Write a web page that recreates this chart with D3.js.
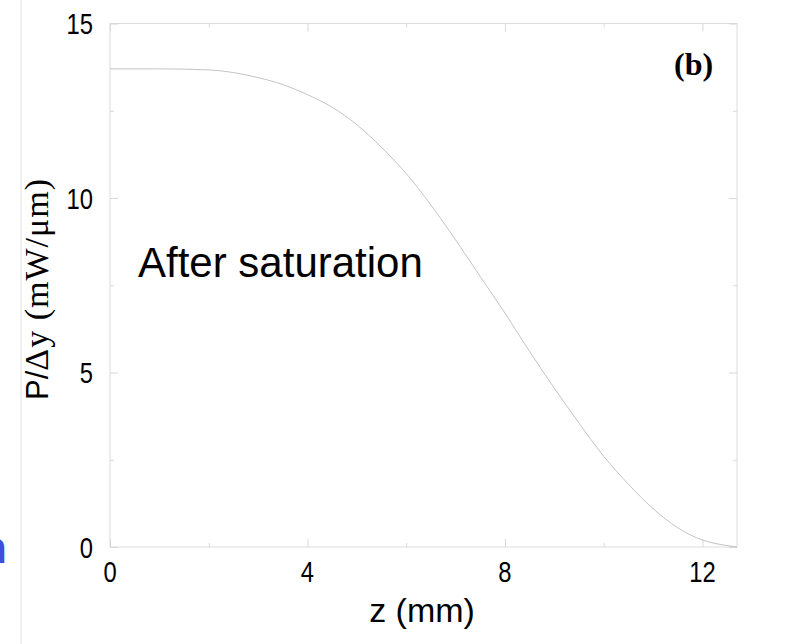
<!DOCTYPE html>
<html>
<head>
<meta charset="utf-8">
<script src="https://cdn.jsdelivr.net/npm/d3@7"></script>
<style>
  body { margin: 0; background: #fff; }
  svg { display: block; }
  .frame { fill: none; stroke: #dcdcdc; stroke-width: 1; }
  .tick line { stroke: #d8d8d8; }
  .domain { display: none; }
  .curve { fill: none; stroke: #c4c4c4; stroke-width: 1; }
  .num { font-family: "Liberation Sans", Arial, sans-serif; font-size: 29px; fill: #000; }
</style>
</head>
<body>
<div class="chart"></div>
<script>
const WIDTH = 802;
const HEIGHT = 644;
const LEFT = 110, RIGHT = 737, TOP = 23.5, BOTTOM = 547;

// power per unit width along z, after saturation
var zValues = [0, 1, 2, 3, 3.5, 4, 4.5, 5, 5.5, 6, 6.5, 7, 7.5, 8, 8.5, 9, 9.5, 10, 10.5, 11, 11.5, 12, 12.5, 12.7];
var powerValues = [13.70, 13.70, 13.67, 13.45, 13.25, 12.96, 12.6, 12.1, 11.45, 10.7, 9.8, 8.8, 7.75, 6.7, 5.6, 4.55, 3.55, 2.6, 1.8, 1.1, 0.55, 0.2, 0.04, 0];

var xMajor = [0, 4, 8, 12];
var xMinor = [2, 6, 10];
var yMajor = [0, 5, 10, 15];
var yMinor = [2.5, 7.5, 12.5];

var xScale = d3.scaleLinear().domain([0, 12.7]).range([LEFT, RIGHT]);
var yScale = d3.scaleLinear().domain([0, 15]).range([BOTTOM, TOP]);

var svg = d3.select('.chart').append('svg')
    .attr('width', WIDTH)
    .attr('height', HEIGHT);

// leftover slide border and cut letter at the far left
svg.append('line')
    .attr('x1', 21).attr('x2', 21)
    .attr('y1', 0).attr('y2', HEIGHT)
    .attr('stroke', '#e4e4e4');
svg.append('text')
    .attr('x', 7).attr('y', 563)
    .attr('text-anchor', 'end')
    .style('font-family', '"Liberation Sans", Arial, sans-serif')
    .style('font-weight', 'bold')
    .style('font-size', '44px')
    .style('fill', '#3f4fdc')
    .text('n');

svg.append('rect')
    .attr('class', 'frame')
    .attr('x', LEFT).attr('y', TOP)
    .attr('width', RIGHT - LEFT).attr('height', BOTTOM - TOP);

function drawTicks(axisFn, scale, values, size, transform) {
    svg.append('g')
        .attr('transform', transform)
        .call(axisFn(scale).tickValues(values).tickSize(-size).tickFormat(''));
}

drawTicks(d3.axisBottom, xScale, xMajor, 8, 'translate(0,' + BOTTOM + ')');
drawTicks(d3.axisBottom, xScale, xMinor, 4, 'translate(0,' + BOTTOM + ')');
drawTicks(d3.axisTop, xScale, xMajor, 8, 'translate(0,' + TOP + ')');
drawTicks(d3.axisTop, xScale, xMinor, 4, 'translate(0,' + TOP + ')');
drawTicks(d3.axisLeft, yScale, yMajor, 8, 'translate(' + LEFT + ',0)');
drawTicks(d3.axisLeft, yScale, yMinor, 4, 'translate(' + LEFT + ',0)');
drawTicks(d3.axisRight, yScale, yMajor, 8, 'translate(' + RIGHT + ',0)');
drawTicks(d3.axisRight, yScale, yMinor, 4, 'translate(' + RIGHT + ',0)');

// tick labels (narrow look of the original)
svg.append('g').selectAll('g').data(xMajor).enter().append('g')
    .attr('transform', function (d) { return 'translate(' + xScale(d) + ',582) scale(0.82,1)'; })
    .append('text')
    .attr('class', 'num')
    .attr('text-anchor', 'middle')
    .text(function (d) { return d; });

svg.append('g').selectAll('g').data(yMajor).enter().append('g')
    .attr('transform', function (d) { return 'translate(93,' + (yScale(d) + 10.5) + ') scale(0.82,1)'; })
    .append('text')
    .attr('class', 'num')
    .attr('text-anchor', 'end')
    .text(function (d) { return d; });

var line = d3.line()
    .x(function (d, i) { return xScale(zValues[i]); })
    .y(function (d) { return yScale(d); })
    .curve(d3.curveMonotoneX);

svg.append('path')
    .attr('class', 'curve')
    .attr('d', line(powerValues));

// axis titles
svg.append('text')
    .attr('x', 422).attr('y', 622)
    .attr('text-anchor', 'middle')
    .style('font-family', '"Liberation Sans", Arial, sans-serif')
    .style('font-size', '34px')
    .text('z (mm)');

var yTitle = svg.append('text')
    .attr('transform', 'translate(48,289) rotate(-90)')
    .attr('text-anchor', 'middle')
    .style('font-size', '31px');
yTitle.append('tspan')
    .style('font-family', '"Liberation Sans", Arial, sans-serif')
    .text('P/');
yTitle.append('tspan')
    .style('font-family', '"Liberation Serif", "Times New Roman", serif')
    .style('font-size', '34px')
    .style('letter-spacing', '1px')
    .text('\u0394y (mW/\u03bcm)');

svg.append('text')
    .attr('x', 138).attr('y', 277)
    .style('font-family', '"Liberation Sans", Arial, sans-serif')
    .style('font-size', '42px')
    .text('After saturation');

svg.append('text')
    .attr('x', 674).attr('y', 75)
    .style('font-family', '"Liberation Serif", "Times New Roman", serif')
    .style('font-weight', 'bold')
    .style('font-size', '32px')
    .text('(b)');
</script>
</body>
</html>
